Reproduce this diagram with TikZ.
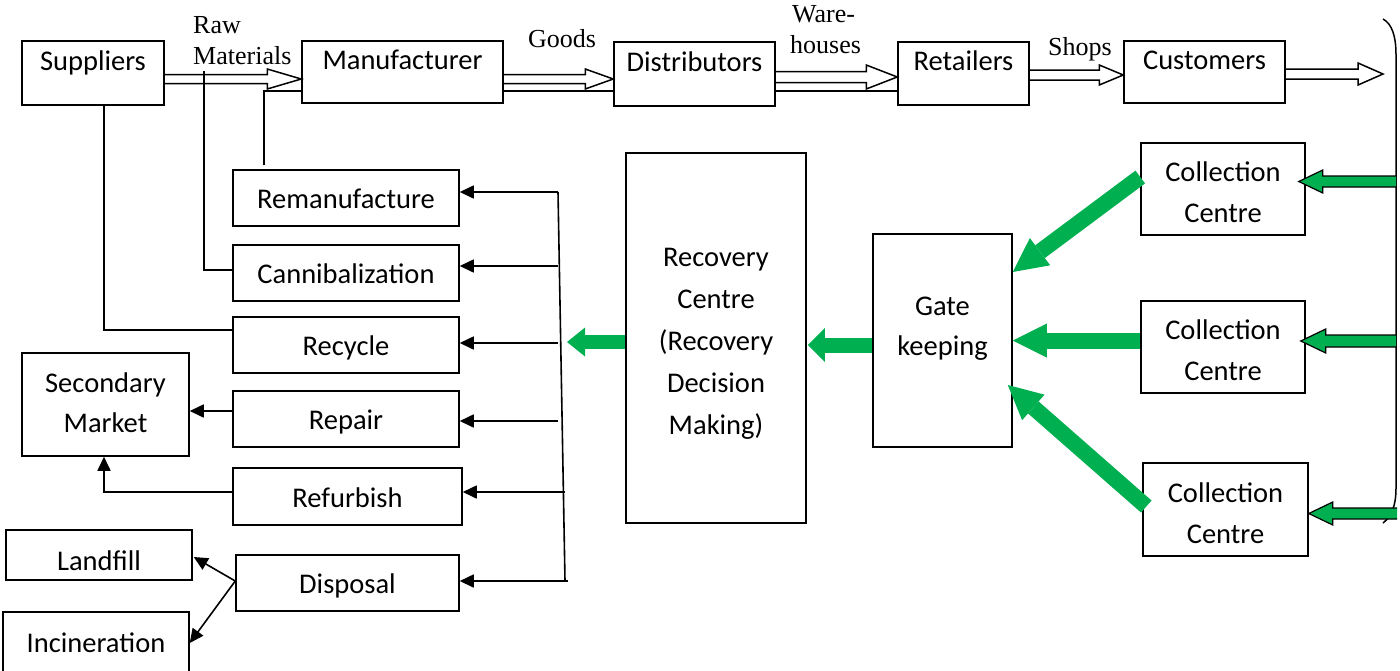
\documentclass[tikz,border=0pt]{standalone}
\usepackage{fontspec}
\setmainfont{Carlito}
\newfontfamily\tms{Liberation Serif}
\usetikzlibrary{arrows.meta,calc}
\definecolor{gr}{HTML}{00B050}
\begin{document}
\begin{tikzpicture}[x=1pt,y=-1pt,
  box/.style={draw, line width=1.5pt, inner sep=0pt, align=center,
    font=\fontsize{28.5}{41}\selectfont, text height=21pt, text depth=0pt},
  topbox/.style={box, text depth=27pt},
  ccbox/.style={box, text height=67pt, text depth=0pt},
  lbl/.style={font=\tms\fontsize{26}{31}\selectfont, inner sep=0pt, anchor=base west},
  ln/.style={draw, line width=1.6pt},
  tarrow/.style={draw, line width=1.6pt, -{Triangle[length=14pt,width=13pt]}},
  hollow/.style n args={3}{draw, line width=1.5pt,
    to path={let \p1=(\tikztostart), \p2=(\tikztotarget) in
      (\x1,\y2+#1) -- (\x2-#3,\y2+#1) -- (\x2-#3,\y2+#2) -- (\x2,\y2)
      -- (\x2-#3,\y2-#2) -- (\x2-#3,\y2-#1) -- (\x1,\y2-#1)}},
  gblock/.style n args={3}{draw=black, line width=1.2pt, fill=gr,
    to path={let \p1=(\tikztostart), \p2=(\tikztotarget) in
      (\x1,\y2+#1) -- (\x2+#3,\y2+#1) -- (\x2+#3,\y2+#2) -- (\x2,\y2)
      -- (\x2+#3,\y2-#2) -- (\x2+#3,\y2-#1) -- (\x1,\y2-#1)}},
  garrow/.style={draw=gr, line width=16pt, -{Triangle[length=34pt,width=34pt,line width=0pt]}},
  garrows/.style={draw=gr, line width=15pt, -{Triangle[length=17pt,width=34pt,line width=0pt]}}
]
\useasboundingbox (0,0) rectangle (1400,670);

% top row
\node[topbox, minimum width=142pt, minimum height=64pt] (sup) at (93,73) {Suppliers};
\node[topbox, minimum width=201pt, minimum height=62pt] (man) at (402.5,72) {Manufacturer};
\node[topbox, minimum width=161pt, minimum height=64pt] (dis) at (694.5,74) {Distributors};
\node[topbox, minimum width=131pt, minimum height=63pt] (ret) at (963.5,73.5) {Retailers};
\node[topbox, minimum width=161pt, minimum height=62pt] (cus) at (1204.5,72) {Customers};
\coordinate (out) at (1383,74);

% labels
\node[lbl] (raw1) at (193,33) {Raw};
\node[lbl] (raw2) at (193,64) {Materials};
\node[lbl] (goods) at (528,47) {Goods};
\node[lbl] (ware1) at (792,22) {Ware-};
\node[lbl] (ware2) at (790,53) {houses};
\node[lbl] (shops) at (1048,55) {Shops};

% left column
\node[box, minimum width=226pt, minimum height=56pt] (reman) at (346,198) {Remanufacture};
\node[box, minimum width=226pt, minimum height=56pt] (canni) at (346,273) {Cannibalization};
\node[box, minimum width=226pt, minimum height=56pt] (recyc) at (346,345) {Recycle};
\node[box, minimum width=226pt, minimum height=56pt] (repair) at (346,419) {Repair};
\node[box, minimum width=229pt, minimum height=57pt] (refurb) at (347.5,496.5) {Refurbish};
\node[box, minimum width=223pt, minimum height=56pt] (disp) at (347.5,583) {Disposal};

\node[box, font=\fontsize{28.5}{40}\selectfont, text height=60pt, text depth=5pt, minimum width=167pt, minimum height=103pt] (secm) at (105.5,404.5) {Secondary\\Market};
\node[box, text height=30pt, minimum width=186pt, minimum height=50pt] (land) at (99,555) {Landfill};
\node[box, minimum width=186pt, minimum height=60pt] (incin) at (96,642) {Incineration};

% centre
\node[box, font=\fontsize{28.5}{42}\selectfont, text height=192pt, text depth=0pt,
      minimum width=180pt, minimum height=370pt] (recov) at (716,338)
      {Recovery\\Centre\\(Recovery\\Decision\\Making)};
\node[box, font=\fontsize{28.5}{40}\selectfont, text height=60pt, text depth=31pt, minimum width=139pt, minimum height=213pt] (gate) at (942.5,340.5) {Gate\\keeping};

\node[ccbox, minimum width=164pt, minimum height=92pt] (cc1) at (1223,189) {Collection\\Centre};
\node[ccbox, minimum width=164pt, minimum height=92pt] (cc2) at (1223,347) {Collection\\Centre};
\node[ccbox, minimum width=165pt, minimum height=93pt] (cc3) at (1225.5,509.5) {Collection\\Centre};

% hollow forward arrows
\draw[hollow={4.5pt}{10pt}{34pt}] ($(sup.east)+(0,6)$) to ($(man.west)+(0,7)$);
\draw[hollow={4.5pt}{10pt}{28pt}] ($(man.east)+(0,7)$) to ($(dis.west)+(0,5)$);
\draw[hollow={5.5pt}{12pt}{31pt}] ($(dis.east)+(0,3)$) to ($(ret.west)+(0,3.5)$);
\draw[hollow={5pt}{10pt}{24pt}] ($(ret.east)+(0,1.5)$) to ($(cus.west)+(0,3)$);
\draw[hollow={5pt}{11pt}{25pt}] ($(cus.east)+(0,2)$) to (out);
\draw[ln] ($(man.east)+(0,19)$) -- ($(dis.west)+(0,17)$);
\draw[ln] ($(dis.east)+(0,17)$) -- ($(ret.west)+(0,17.5)$);

% feedback lines to the top
\coordinate (rawtap) at (204,71);
\draw[ln] ($(sup.south)+(11,0)$) |- ($(recyc.west)+(0,-15)$);
\draw[ln] (rawtap) |- ($(canni.west)+(0,-3)$);
\draw[ln] ($(reman.north)+(-82,-4)$) |- ($(man.west)+(0,19)$);

% bus
\coordinate (b1) at (558,192);
\coordinate (b2) at (558,266);
\coordinate (b3) at (558,343);
\coordinate (b4) at (558,421);
\coordinate (b5) at (565,492);
\coordinate (b6) at (568,581);
\draw[ln] (b1) -- (565,581);
\draw[tarrow] (b1) -- ($(reman.east)+(0,-6)$);
\draw[tarrow] (b2) -- ($(canni.east)+(0,-7)$);
\draw[tarrow] (b3) -- ($(recyc.east)+(0,-2)$);
\draw[tarrow] (b4) -- ($(repair.east)+(0,2)$);
\draw[tarrow] (b5) -- ($(refurb.east)+(0,-4.5)$);
\draw[tarrow] (b6) -- ($(disp.east)+(0,-2)$);

% outputs on the left
\draw[tarrow] ($(repair.west)+(0,-8)$) -- ($(secm.east)+(0,6.5)$);
\draw[tarrow] ($(refurb.west)+(0,-4.5)$) -| ($(secm.south)+(-1.5,0)$);
\draw[tarrow] ($(disp.west)+(0,-2)$) -- ($(land.east)+(1,2)$);
\draw[tarrow] ($(disp.west)+(0,-2)$) -- ($(incin.east)+(0,1)$);

% green arrows
\coordinate (busin) at (567,342);
\draw[draw=gr, line width=14pt, -{Triangle[length=18pt,width=29pt,line width=0pt]}] ($(recov.west)+(0,4)$) -- (busin);
\draw[garrows] ($(gate.west)+(0,4.5)$) -- ($(recov.east)+(1,7)$);
\draw[garrow] ($(cc1.west)+(0,-12)$) -- ($(gate.east)+(0,-68.5)$);
\draw[garrow] ($(cc2.west)+(0,-6.5)$) -- ($(gate.east)+(0,0)$);
\draw[garrow] ($(cc3.west)+(4,-3)$) -- ($(gate.east)+(-5,44.5)$);

% bracket and returns
\draw[line width=1.5pt] (1383,19) .. controls (1392,24) and (1396,36) .. (1396,55) -- (1396,488) .. controls (1396,505) and (1392,516) .. (1383,523);
\coordinate (k1) at (1396,181.5);
\coordinate (k2) at (1396,341);
\coordinate (k3) at (1397,513.5);
\draw[gblock={5.5pt}{11.5pt}{24pt}] (k1) to ($(cc1.east)+(-7,-7.5)$);
\draw[gblock={6pt}{12pt}{25pt}] (k2) to ($(cc2.east)+(-5,-6)$);
\draw[gblock={5.5pt}{11.5pt}{24pt}] (k3) to ($(cc3.east)+(0,4)$);
\end{tikzpicture}
\end{document}
